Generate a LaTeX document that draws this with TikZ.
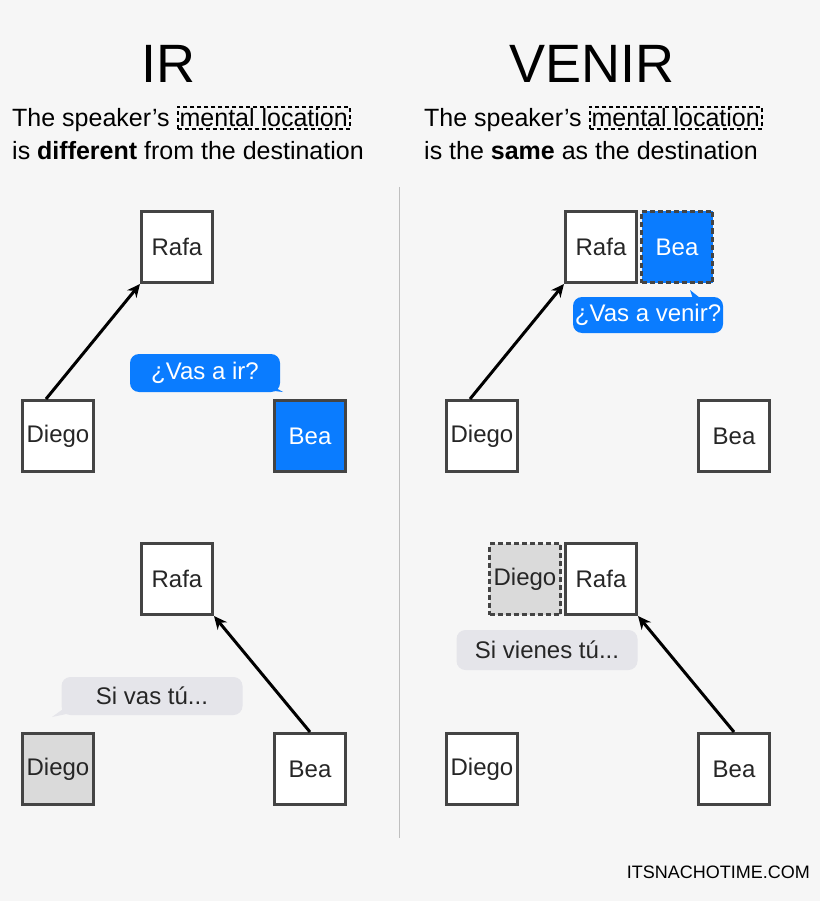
\documentclass[tikz,border=0pt]{standalone}
\usepackage{fontspec}
\setmainfont{Liberation Sans}
\usetikzlibrary{arrows.meta}
\definecolor{bg}{HTML}{F6F6F6}
\definecolor{iblue}{HTML}{0A7CFF}
\definecolor{igray}{HTML}{E5E5EA}
\definecolor{dgray}{HTML}{DADADA}
\definecolor{bx}{HTML}{444444}
\tikzset{
 person/.style={draw=bx,line width=3pt,fill=white,minimum size=71pt,inner sep=0pt,font=\fontsize{24}{24}\selectfont,text=black!85},
 dperson/.style={person,dashed,dash pattern=on 5pt off 3pt},
 arr/.style={line width=3pt,-{Stealth[length=13pt,width=12pt]}},
 bub/.style={rounded corners=9pt,minimum height=38pt,inner sep=0pt,font=\fontsize{24}{24}\selectfont},
 sub/.style={anchor=west,font=\fontsize{25}{25}\selectfont,inner sep=0pt},
 ttl/.style={font=\fontsize{54}{54}\selectfont},
 ml/.style={draw=black,dashed,dash pattern=on 4pt off 3pt,line width=2pt,inner sep=2pt}
}
\begin{document}
\begin{tikzpicture}[x=1pt,y=-1pt]
\fill[bg] (0,0) rectangle (820,901);
\useasboundingbox (0,0) rectangle (820,901);
\draw[black!25,line width=1pt] (399,187) -- (399,838);
\node[ttl] (t1) at (168,64) {IR};
\node[ttl] (t2) at (592,64) {VENIR};
\node[sub] (s1) at (12,119) {The speaker's \tikz[baseline=(m.base)]\node[ml](m){mental location};};
\node[sub] (s2) at (12,151) {is \textbf{different} from the destination};
\node[sub] (s3) at (424,119) {The speaker's \tikz[baseline=(m.base)]\node[ml](m){mental location};};
\node[sub] (s4) at (424,151) {is the \textbf{same} as the destination};
% left top
\node[person] (r1) at (177,247) {Rafa};
\node[person] (d1) at (58,436) {Diego};
\node[person,fill=iblue,text=white] (b1) at (310,436) {Bea};
\draw[arr] (d1.north west)++(25,0) coordinate (a1) (a1) -- (r1.south west);
\fill[iblue] (262,380) -- (283,392) -- (266,390) -- cycle;
\node[bub,fill=iblue,text=white,minimum width=150pt] (v1) at (205,373) {¿Vas a ir?};
% left bottom
\node[person] (r2) at (177,579) {Rafa};
\node[person,fill=dgray] (d2) at (58,769) {Diego};
\node[person] (b2) at (310,769) {Bea};
\draw[arr] (b2.north) -- (r2.south east);
\fill[igray] (70,704) -- (52,717) -- (76,712) -- cycle;
\node[bub,fill=igray,text=black!85,minimum width=181pt] (v2) at (152,696) {Si vas tú...};
% right top
\node[person] (r3) at (601,247) {Rafa};
\node[dperson,fill=iblue,text=white] (b3) at (677,247) {Bea};
\node[person] (d3) at (482,436) {Diego};
\node[person] (b4) at (734,436) {Bea};
\draw[arr] (d3.north west)++(25,0) coordinate (a3) (a3) -- (r3.south west);
\fill[iblue] (690,290) -- (694,302) -- (705,302) -- cycle;
\node[bub,fill=iblue,text=white,minimum width=150pt,minimum height=36pt] (v3) at (648,315) {¿Vas a venir?};
% right bottom
\node[dperson,fill=dgray] (d4) at (525,579) {Diego};
\node[person] (r4) at (601,579) {Rafa};
\node[person] (d5) at (482,769) {Diego};
\node[person] (b5) at (734,769) {Bea};
\draw[arr] (b5.north) -- (r4.south east);
\node[bub,fill=igray,text=black!85,minimum width=181pt,minimum height=40pt] (v4) at (547,650) {Si vienes tú...};
\node[anchor=east,font=\fontsize{18}{18}\selectfont,inner sep=0pt] (ft) at (810,872) {ITSNACHOTIME.COM};
\end{tikzpicture}
\end{document}
